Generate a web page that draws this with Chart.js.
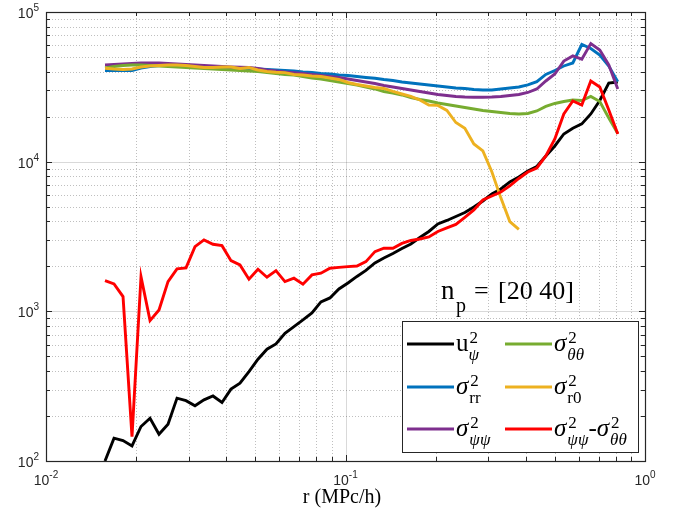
<!DOCTYPE html>
<html>
<head>
<meta charset="utf-8">
<script src="https://cdn.jsdelivr.net/npm/chart.js@4.4.1/dist/chart.umd.min.js"></script>
<style>
  body { margin: 0; background: #fff; }
  #wrap { width: 680px; height: 516px; }
</style>
</head>
<body>
<div id="wrap"><canvas id="c" width="680" height="516"></canvas></div>
<script>
// r (MPc/h)
const rVals = [0.01574, 0.01687, 0.01808, 0.01937, 0.02076, 0.02225, 0.02384, 0.02555, 0.02738, 0.02934,
  0.03144, 0.03369, 0.03610, 0.03869, 0.04146, 0.04443, 0.04761, 0.05102, 0.05467, 0.05859,
  0.06278, 0.06728, 0.07210, 0.07726, 0.08279, 0.08872, 0.09507, 0.1019, 0.1092, 0.1170,
  0.1254, 0.1343, 0.1440, 0.1543, 0.1653, 0.1771, 0.1898, 0.2034, 0.2180, 0.2336,
  0.2503, 0.2683, 0.2875, 0.3080, 0.3301, 0.3537, 0.3791, 0.4062, 0.4353, 0.4665,
  0.4999, 0.5357, 0.5741, 0.6152, 0.6592, 0.7064, 0.7570, 0.8112];

const uPsi = [100, 142, 137, 126, 170, 193, 151, 176, 263, 253, 234, 256, 272, 246, 302, 331, 396, 479, 558, 606,
  714, 790, 876, 976, 1156, 1229, 1411, 1547, 1711, 1876, 2105, 2273, 2437, 2631, 2820, 3116, 3417, 3835, 4047, 4304,
  4578, 4982, 5463, 6085, 6570, 7317, 7904, 8666, 9288, 10920, 12730, 15310, 16730, 17870, 20830, 25640, 33550, 34070];

const sigRR = [40670, 40670, 40670, 40670, 42260, 43240, 43920, 43920, 43920, 43580, 43240, 42910, 42910, 42580, 42580, 42260, 41930, 41610, 41300, 40990,
  40670, 40360, 39740, 39440, 38830, 38530, 37950, 37660, 37080, 36520, 36070, 35410, 34870, 34070, 33550, 33040, 32540, 32040, 31550, 31070,
  30830, 30360, 30130, 30130, 30600, 31070, 31550, 32540, 34250, 38240, 40670, 43580, 45630, 60660, 57050, 51610, 43580, 34250];

const sigPsiPsi = [44260, 44600, 44930, 45280, 45630, 45630, 45630, 45280, 44930, 44600, 44260, 43920, 43580, 43240, 42910, 42710, 42580, 41930, 40990, 40360,
  39740, 39320, 38830, 38240, 37660, 37080, 36520, 35680, 34870, 34070, 33300, 32290, 31550, 30830, 30130, 29440, 28770, 28110, 27690, 27270,
  27060, 26940, 26940, 27060, 27270, 27690, 28110, 28990, 30600, 34600, 38530, 47010, 50850, 48430, 61600, 55740, 44260, 30600];

const sigThTh = [42260, 43240, 43920, 44260, 44260, 43920, 43580, 43240, 42910, 42580, 42260, 41930, 41610, 41300, 40990, 40670, 40360, 40050, 39440, 38830,
  38240, 37950, 37080, 36240, 35680, 34870, 34070, 33300, 32540, 31550, 30600, 29440, 28770, 27900, 26850, 26040, 25440, 24670, 24110, 23560,
  23020, 22500, 21990, 21650, 21320, 21000, 20830, 21000, 21820, 23380, 24480, 25250, 25840, 25640, 27270, 25250, 19580, 15430];

// stops earlier than the others
const sigR0 = [42070, 41610, 41300, 41610, 42910, 43580, 43920, 44260, 44260, 43920, 43240, 42580, 42580, 42910, 42910, 41930, 42580, 40990, 40050, 39560,
  39320, 38240, 37950, 37370, 37080, 36240, 35410, 33810, 32790, 32040, 31310, 30830, 29440, 28330, 27270, 25840, 23930, 23760, 21990, 18270,
  16710, 13130, 11790, 8560, 5730, 3981, 3530];

const sigDiff = [1604, 1524, 1254, 145.5, 1705, 867, 1022, 1579, 1920, 1950, 2705, 3000, 2807, 2747, 2181, 2042, 1639, 1911, 1690, 1870,
  1579, 1664, 1517, 1751, 1797, 1941, 1966, 1990, 2010, 2148, 2505, 2639, 2639, 2842, 2976, 3045, 3141, 3417, 3607, 3806,
  4239, 4757, 5548, 5900, 6275, 6882, 7723, 8535, 9077, 10920, 14180, 20830, 25440, 23930, 34600, 31550, 22160, 15310];

const xTicks = [0.01, 0.1, 1];
const xTickExp = ['-2', '-1', '0'];
const yTicks = [100, 1000, 10000, 100000];
const yTickExp = ['2', '3', '4', '5'];

const colors = ['#000000', '#0072BD', '#7E2F8E', '#77AC30', '#EDB120', '#FF0000'];

// legend labels: base text + superscript + subscript pieces
const legendLabels = [
  [{ b: 'u', bi: false, sup: '2', sub: 'ψ', si: true }],
  [{ b: 'σ', bi: true, sup: '2', sub: 'rr', si: false }],
  [{ b: 'σ', bi: true, sup: '2', sub: 'ψψ', si: true }],
  [{ b: 'σ', bi: true, sup: '2', sub: 'θθ', si: true }],
  [{ b: 'σ', bi: true, sup: '2', sub: 'r0', si: false }],
  [{ b: 'σ', bi: true, sup: '2', sub: 'ψψ', si: true }, { b: '-', bi: false, sup: '', sub: '', si: false }, { b: 'σ', bi: true, sup: '2', sub: 'θθ', si: true }]
];

const series = [uPsi, sigRR, sigPsiPsi, sigThTh, sigR0, sigDiff];

const datasets = series.map((s, i) => ({
  data: s.map((v, j) => ({ x: rVals[j], y: v })),
  borderColor: colors[i],
  borderWidth: 2.9,
  pointRadius: 0,
  tension: 0,
  fill: false,
  order: 6 - i
}));

const SERIF = '"Liberation Serif", "Times New Roman", serif';
const SANS = '"Liberation Sans", Arial, sans-serif';

function drawLabel(ctx, pieces, x, base) {
  pieces.forEach(p => {
    ctx.font = (p.bi ? 'italic ' : '') + '25px ' + SERIF;
    ctx.fillText(p.b, x, base);
    x += ctx.measureText(p.b).width + (p.bi ? 1 : 0);
    let w = 0;
    if (p.sup) {
      ctx.font = '17px ' + SERIF;
      ctx.fillText(p.sup, x + 1, base - 8);
      w = ctx.measureText(p.sup).width + 1;
    }
    if (p.sub) {
      ctx.font = (p.si ? 'italic ' : '') + '17px ' + SERIF;
      ctx.fillText(p.sub, x, base + 9);
      w = Math.max(w, ctx.measureText(p.sub).width);
    }
    x += w;
  });
}

const matlabAxes = {
  id: 'matlabAxes',
  beforeDatasetsDraw(chart) {
    const { ctx, chartArea: a, scales } = chart;
    const xs = scales.x, ys = scales.y;
    ctx.save();
    ctx.lineWidth = 1;
    // minor grid (dotted)
    ctx.strokeStyle = 'rgba(0,0,0,0.25)';
    ctx.setLineDash([1, 2]);
    for (let d = 0; d < xTicks.length - 1; d++) {
      for (let k = 2; k <= 9; k++) {
        const px = Math.round(xs.getPixelForValue(xTicks[d] * k)) + 0.5;
        ctx.beginPath(); ctx.moveTo(px, a.top); ctx.lineTo(px, a.bottom); ctx.stroke();
      }
    }
    for (let d = 0; d < yTicks.length - 1; d++) {
      for (let k = 2; k <= 9; k++) {
        const py = Math.round(ys.getPixelForValue(yTicks[d] * k)) + 0.5;
        ctx.beginPath(); ctx.moveTo(a.left, py); ctx.lineTo(a.right, py); ctx.stroke();
      }
    }
    // major grid
    ctx.setLineDash([]);
    ctx.strokeStyle = 'rgba(0,0,0,0.15)';
    xTicks.forEach(v => {
      const px = Math.round(xs.getPixelForValue(v)) + 0.5;
      ctx.beginPath(); ctx.moveTo(px, a.top); ctx.lineTo(px, a.bottom); ctx.stroke();
    });
    yTicks.forEach(v => {
      const py = Math.round(ys.getPixelForValue(v)) + 0.5;
      ctx.beginPath(); ctx.moveTo(a.left, py); ctx.lineTo(a.right, py); ctx.stroke();
    });
    ctx.restore();
  },
  afterDatasetsDraw(chart) {
    const { ctx, chartArea: a, scales } = chart;
    const xs = scales.x, ys = scales.y;
    ctx.save();
    ctx.strokeStyle = '#262626';
    ctx.lineWidth = 1;
    // ticks on all four sides, pointing in
    const tick = (px, len) => {
      ctx.beginPath(); ctx.moveTo(px, a.bottom); ctx.lineTo(px, a.bottom - len); ctx.stroke();
      ctx.beginPath(); ctx.moveTo(px, a.top); ctx.lineTo(px, a.top + len); ctx.stroke();
    };
    const tickY = (py, len) => {
      ctx.beginPath(); ctx.moveTo(a.left, py); ctx.lineTo(a.left + len, py); ctx.stroke();
      ctx.beginPath(); ctx.moveTo(a.right, py); ctx.lineTo(a.right - len, py); ctx.stroke();
    };
    for (let d = 0; d < xTicks.length - 1; d++)
      for (let k = 2; k <= 9; k++) tick(Math.round(xs.getPixelForValue(xTicks[d] * k)) + 0.5, 4);
    xTicks.forEach(v => tick(Math.round(xs.getPixelForValue(v)) + 0.5, 6));
    for (let d = 0; d < yTicks.length - 1; d++)
      for (let k = 2; k <= 9; k++) tickY(Math.round(ys.getPixelForValue(yTicks[d] * k)) + 0.5, 4);
    yTicks.forEach(v => tickY(Math.round(ys.getPixelForValue(v)) + 0.5, 6));

    // legend box (drawn before the axis frame)
    const L = { l: 402, t: 321, r: 638, b: 452 };
    ctx.fillStyle = '#fff';
    ctx.fillRect(L.l, L.t, L.r - L.l, L.b - L.t);
    ctx.strokeRect(L.l + 0.5, L.t + 0.5, L.r - L.l, L.b - L.t);

    // axes frame
    ctx.lineWidth = 1.2;
    ctx.strokeRect(a.left + 0.5, a.top + 0.5, a.right - a.left, a.bottom - a.top);

    // tick labels
    ctx.fillStyle = '#262626';
    ctx.textBaseline = 'alphabetic';
    yTicks.forEach((v, i) => {
      const py = ys.getPixelForValue(v);
      ctx.font = '10px ' + SANS;
      const we = ctx.measureText(yTickExp[i]).width;
      ctx.font = '14px ' + SANS;
      const wb = ctx.measureText('10').width;
      const right = a.left - 7;
      ctx.textAlign = 'left';
      ctx.fillText('10', right - we - wb, py + 6);
      ctx.font = '10px ' + SANS;
      ctx.fillText(yTickExp[i], right - we, py - 1);
    });
    xTicks.forEach((v, i) => {
      const px = xs.getPixelForValue(v);
      ctx.font = '10px ' + SANS;
      const we = ctx.measureText(xTickExp[i]).width;
      ctx.font = '14px ' + SANS;
      const wb = ctx.measureText('10').width;
      const left = px - (we + wb) / 2;
      ctx.textAlign = 'left';
      ctx.fillText('10', left, a.bottom + 24);
      ctx.font = '10px ' + SANS;
      ctx.fillText(xTickExp[i], left + wb, a.bottom + 17);
    });

    // axis title
    ctx.fillStyle = '#000';
    ctx.font = '20px ' + SERIF;
    ctx.textAlign = 'center';
    ctx.fillText('r (MPc/h)', 342, 503);

    // n_p annotation
    ctx.textAlign = 'left';
    ctx.font = '27px ' + SERIF;
    ctx.fillText('n', 441, 299);
    ctx.font = '20px ' + SERIF;
    ctx.fillText('p', 456, 312);
    ctx.font = '26px ' + SERIF;
    ctx.fillText('=', 474, 299);
    ctx.fillText('[20 40]', 498, 299);

    // legend entries: column-wise, 3 rows
    const rowsY = [344, 387, 429];
    const colX = [407, 505];
    chart.data.datasets.forEach((ds, i) => {
      const col = Math.floor(i / 3), row = i % 3;
      const y = rowsY[row], x0 = colX[col];
      ctx.strokeStyle = ds.borderColor;
      ctx.lineWidth = 3;
      ctx.beginPath(); ctx.moveTo(x0, y); ctx.lineTo(x0 + 47, y); ctx.stroke();
      ctx.fillStyle = '#000';
      drawLabel(ctx, legendLabels[i], x0 + 49, y + 7);
    });
    ctx.restore();
  }
};

new Chart(document.getElementById('c'), {
  type: 'line',
  data: { datasets },
  options: {
    responsive: false,
    animation: false,
    layout: { padding: { left: 46, right: 35, top: 12, bottom: 55 } },
    plugins: { legend: { display: false }, tooltip: { enabled: false } },
    scales: {
      x: { type: 'logarithmic', min: 0.01, max: 1, display: false },
      y: { type: 'logarithmic', min: 100, max: 100000, display: false }
    }
  },
  plugins: [matlabAxes]
});
</script>
</body>
</html>
